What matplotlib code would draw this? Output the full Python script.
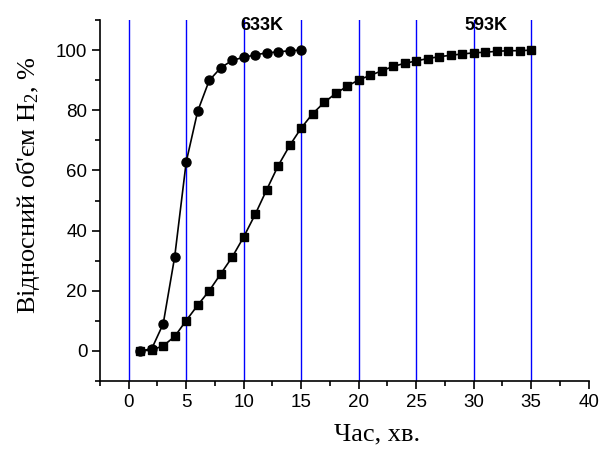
import matplotlib.pyplot as plt
from matplotlib.ticker import MultipleLocator

plt.rcParams['font.family'] = ['Liberation Sans', 'DejaVu Sans']
plt.rcParams['mathtext.fontset'] = 'custom'
plt.rcParams['mathtext.rm'] = 'Liberation Serif'
plt.rcParams['mathtext.it'] = 'Liberation Serif:italic'

# 633K, circles
t633 = [1, 2, 3, 4, 5, 6, 7, 8, 9, 10, 11, 12, 13, 14, 15]
v633 = [0, 0.7, 9, 31.3, 62.8, 79.7, 89.9, 94.1, 96.6, 97.6, 98.4, 99.1, 99.4, 99.8, 100]

# 593K, squares
t593 = list(range(1, 36))
v593 = [0, 0.3, 1.7, 4.8, 10.1, 15.2, 20.0, 25.6, 31.2, 37.9, 45.4, 53.6, 61.6, 68.3,
        74.1, 78.9, 82.6, 85.6, 88.0, 90.1, 91.6, 93.1, 94.6, 95.6, 96.4, 97.2, 97.8,
        98.3, 98.7, 99.1, 99.3, 99.6, 99.8, 99.8, 100]

grid_x = [0, 5, 10, 15, 20, 25, 30, 35]
labels = [('633K', 11.6), ('593K', 31.1)]

fig = plt.figure(figsize=(6.02, 4.49), dpi=100)
ax = fig.add_axes([0.166, 0.1514, 0.812, 0.804])

for gx in grid_x:
  ax.axvline(gx, color='#0000ff', lw=1, zorder=1)

ax.plot(t593, v593, color='black', lw=1.2, marker='s', markersize=5.5, zorder=3)
ax.plot(t633, v633, color='black', lw=1.2, marker='o', markersize=6.5, zorder=4)

for txt, xpos in labels:
  ax.text(xpos, 108.3, txt, ha='center', va='center', fontsize=13, fontweight='bold')

ax.set_xlim(-2.5, 40)
ax.set_ylim(-10, 110)
ax.xaxis.set_major_locator(MultipleLocator(5))
ax.xaxis.set_minor_locator(MultipleLocator(2.5))
ax.yaxis.set_minor_locator(MultipleLocator(10))
ax.set_yticks([0, 20, 40, 60, 80, 100])

for s in ['top', 'right']:
  ax.spines[s].set_visible(False)
for s in ['left', 'bottom']:
  ax.spines[s].set_linewidth(1.2)

ax.tick_params(which='major', direction='out', length=6, width=1.2, labelsize=13.5, pad=3)
ax.tick_params(which='minor', direction='out', length=3.5, width=1.2)

ax.set_xlabel('Час, хв.', family='Liberation Serif', fontsize=19, va='center', ha='center')
ax.set_ylabel("Відносний об'єм H$_2$, %", family='Liberation Serif', fontsize=19,
              va='center', ha='center')
ax.xaxis.set_label_coords(0.566, -0.147)
ax.yaxis.set_label_coords(-0.147, 0.543)

fig.savefig('out.png', dpi=100)
